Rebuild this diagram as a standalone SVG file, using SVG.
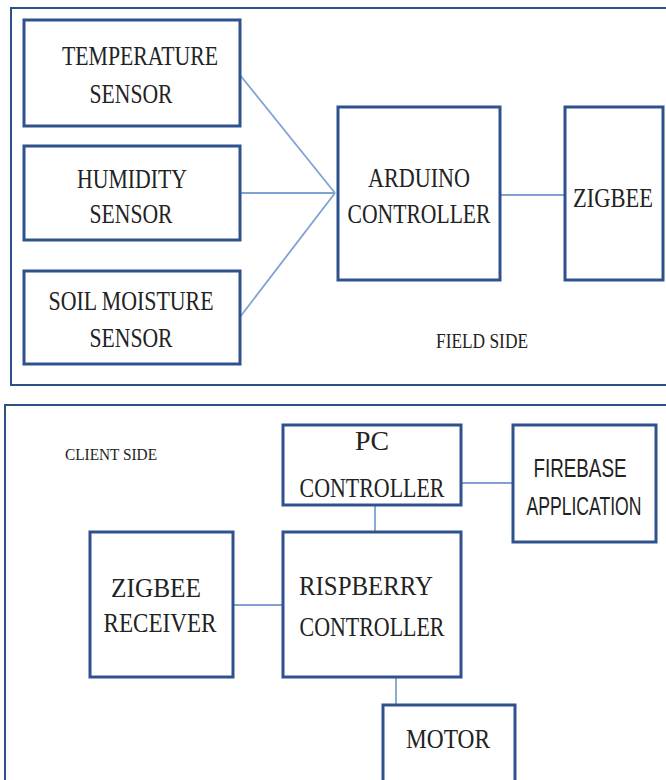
<svg xmlns="http://www.w3.org/2000/svg" width="666" height="780" viewBox="0 0 666 780">
<style>
.frame{fill:none;stroke:#2E5086;stroke-width:2}
.box{fill:#fff;stroke:#2F528F;stroke-width:3}
.link{fill:none;stroke:#7FA1D3;stroke-width:1.8}
.t{font-family:"Liberation Serif",serif;font-size:28px;fill:#222;text-anchor:middle}
.s{font-family:"Liberation Serif",serif;font-size:20px;fill:#222;text-anchor:middle}
.c{font-family:"Liberation Serif",serif;font-size:16px;fill:#222;text-anchor:middle}
.f{font-family:"Liberation Sans",sans-serif;font-size:26px;fill:#222;text-anchor:middle}
</style>
<rect width="666" height="780" fill="#fff"/>
<g id="field-frame">
<rect class="frame" x="11" y="8" width="660" height="377"/>
<text class="s" x="482" y="348" textLength="92" lengthAdjust="spacingAndGlyphs">FIELD SIDE</text>
</g>
<g id="client-frame">
<rect class="frame" x="5" y="405" width="670" height="390"/>
<text class="c" x="111" y="460" textLength="92" lengthAdjust="spacingAndGlyphs">CLIENT SIDE</text>
</g>
<g id="connectors">
<line class="link" x1="240" y1="75" x2="335" y2="193"/>
<line class="link" x1="240" y1="193" x2="335" y2="193"/>
<line class="link" x1="240" y1="317" x2="335" y2="193"/>
<line class="link" x1="500" y1="195" x2="565" y2="195"/>
<line class="link" x1="461" y1="483" x2="513" y2="483"/>
<line class="link" x1="375" y1="505" x2="375" y2="532"/>
<line class="link" x1="233" y1="605" x2="283" y2="605"/>
<line class="link" x1="396" y1="677" x2="396" y2="705"/>
</g>
<g id="temperature-sensor">
<rect class="box" x="24" y="20" width="216" height="106"/>
<text class="t" x="140" y="65" textLength="156" lengthAdjust="spacingAndGlyphs">TEMPERATURE</text>
<text class="t" x="131" y="103" textLength="83" lengthAdjust="spacingAndGlyphs">SENSOR</text>
</g>
<g id="humidity-sensor">
<rect class="box" x="24" y="146" width="216" height="94"/>
<text class="t" x="132" y="188" textLength="110" lengthAdjust="spacingAndGlyphs">HUMIDITY</text>
<text class="t" x="131" y="223" textLength="83" lengthAdjust="spacingAndGlyphs">SENSOR</text>
</g>
<g id="soil-moisture-sensor">
<rect class="box" x="24" y="271" width="216" height="93"/>
<text class="t" x="131" y="310" textLength="165" lengthAdjust="spacingAndGlyphs">SOIL MOISTURE</text>
<text class="t" x="131" y="347" textLength="83" lengthAdjust="spacingAndGlyphs">SENSOR</text>
</g>
<g id="arduino-controller">
<rect class="box" x="338" y="107" width="162" height="173"/>
<text class="t" x="419" y="187" textLength="102" lengthAdjust="spacingAndGlyphs">ARDUINO</text>
<text class="t" x="419" y="223" textLength="143" lengthAdjust="spacingAndGlyphs">CONTROLLER</text>
</g>
<g id="zigbee">
<rect class="box" x="565" y="107" width="98" height="173"/>
<text class="t" x="613" y="207" textLength="80" lengthAdjust="spacingAndGlyphs">ZIGBEE</text>
</g>
<g id="pc-controller">
<rect class="box" x="283" y="425" width="178" height="80"/>
<text class="t" x="372" y="450" textLength="34" lengthAdjust="spacingAndGlyphs">PC</text>
<text class="t" x="372" y="497" textLength="145" lengthAdjust="spacingAndGlyphs">CONTROLLER</text>
</g>
<g id="firebase-application">
<rect class="box" x="513" y="425" width="143" height="117"/>
<text class="f" x="580" y="477" textLength="93" lengthAdjust="spacingAndGlyphs">FIREBASE</text>
<text class="f" x="584" y="515" textLength="115" lengthAdjust="spacingAndGlyphs">APPLICATION</text>
</g>
<g id="zigbee-receiver">
<rect class="box" x="90" y="532" width="143" height="145"/>
<text class="t" x="156" y="597" textLength="90" lengthAdjust="spacingAndGlyphs">ZIGBEE</text>
<text class="t" x="160" y="632" textLength="113" lengthAdjust="spacingAndGlyphs">RECEIVER</text>
</g>
<g id="rispberry-controller">
<rect class="box" x="283" y="532" width="178" height="145"/>
<text class="t" x="366" y="595" textLength="134" lengthAdjust="spacingAndGlyphs">RISPBERRY</text>
<text class="t" x="372" y="636" textLength="145" lengthAdjust="spacingAndGlyphs">CONTROLLER</text>
</g>
<g id="motor">
<rect class="box" x="383" y="705" width="132" height="90"/>
<text class="t" x="448" y="748" textLength="84" lengthAdjust="spacingAndGlyphs">MOTOR</text>
</g>
</svg>
